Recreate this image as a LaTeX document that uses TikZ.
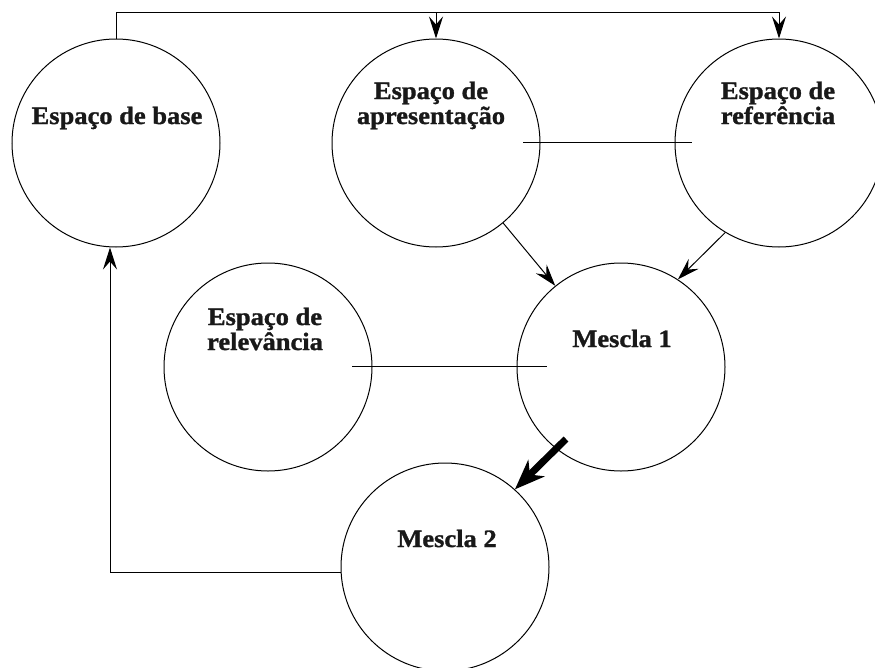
\documentclass[tikz,border=0pt]{standalone}
\usepackage{fontspec}
\setmainfont{Liberation Serif}[FakeStretch=1.06,FakeBold=1.2]
\usetikzlibrary{arrows.meta,calc}
\begin{document}
\begin{tikzpicture}[x=1pt,y=-1pt,
  space/.style={circle,draw,line width=1pt,minimum size=208pt,inner sep=0pt},
  lbl/.style={font=\bfseries\fontsize{25}{25}\selectfont,text=black!90,align=center,inner sep=0pt,anchor=base},
  conn/.style={line width=1pt},
  arr/.style={line width=1pt,-{Stealth[length=22pt,width=14pt,inset=8pt]}},
  bigarr/.style={line width=7pt,-{Stealth[length=30pt,width=23pt,inset=9pt]}}]
\useasboundingbox (0,0) rectangle (875,667);
\node[space] (base) at (116,143) {};
\node[space] (apres) at (436,143) {};
\node[space] (ref) at (779,143) {};
\node[space] (relev) at (268,367) {};
\node[space] (m1) at (621,367) {};
\node[space] (m2) at (445,567) {};
\node[lbl] (tbase) at ($(base.center)+(1,-19)$) {Espaço de base};
\node[lbl] (tapres) at ($(apres.center)+(-5,-19)$) {Espaço de\\apresentação};
\node[lbl] (tref) at ($(ref.center)+(-1,-19)$) {Espaço de\\referência};
\node[lbl] (trelev) at ($(relev.center)+(-3,-17)$) {Espaço de\\relevância};
\node[lbl] (tm1) at ($(m1.center)+(1,-20)$) {Mescla 1};
\node[lbl] (tm2) at ($(m2.center)+(2,-20)$) {Mescla 2};
\coordinate (topy) at (0,12);
\draw[arr] (base.north) -- (base.north |- topy) -- (ref.north |- topy) -- (ref.north);
\draw[arr] (apres.north |- topy) -- (apres.north);
\draw[conn] ($(apres.center)+(87,-1)$) -- ($(ref.center)+(-87,-1)$);
\draw[conn] ($(relev.center)+(84,-1)$) -- ($(m1.center)+(-74,-1)$);
\draw[arr] (apres.310) -- (m1.129);
\draw[arr] (ref.239) -- (m1.57);
\draw[bigarr] ($(m1.center)+(-55,72)$) -- (m2.48);
\draw[arr] ([yshift=-5pt]m2.west) -| ([xshift=-6pt]base.south);
\end{tikzpicture}
\end{document}
